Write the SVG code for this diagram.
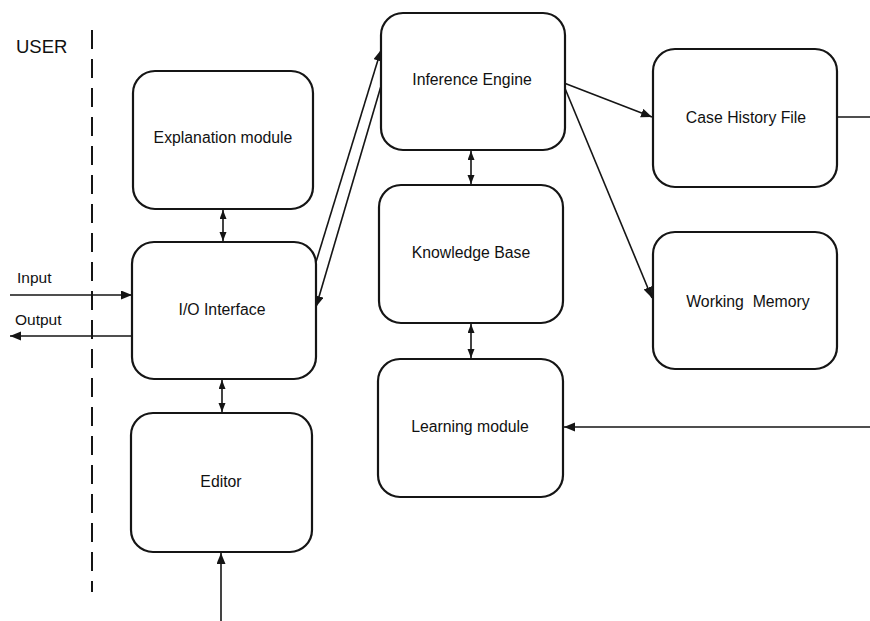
<svg xmlns="http://www.w3.org/2000/svg" width="870" height="621" viewBox="0 0 870 621">
  <style>
    .box { fill: #ffffff; stroke: #151515; stroke-width: 2.2; }
    .lbl { font-family: "Liberation Sans", Arial, sans-serif; font-size: 15.8px; fill: #111; text-anchor: middle; }
    .side { font-family: "Liberation Sans", Arial, sans-serif; font-size: 15.5px; fill: #111; }
    .wire { stroke: #151515; stroke-width: 1.6; fill: none; }
    .one { marker-end: url(#head); }
    .two { marker-start: url(#small); marker-end: url(#small); }
  </style>
  <defs>
    <marker id="head" markerUnits="userSpaceOnUse" markerWidth="12" markerHeight="10" refX="11" refY="4.5" orient="auto">
      <path d="M0,0 L11,4.5 L0,9 z" fill="#151515"/>
    </marker>
    <marker id="small" markerUnits="userSpaceOnUse" markerWidth="10" markerHeight="8" refX="9" refY="3.5" orient="auto-start-reverse">
      <path d="M0,0 L9,3.5 L0,7 z" fill="#151515"/>
    </marker>
  </defs>

  <rect width="870" height="621" fill="#ffffff"/>

  <!-- user boundary -->
  <g id="user-boundary">
    <line x1="92" y1="30" x2="92" y2="592" stroke="#151515" stroke-width="2" stroke-dasharray="19 10"/>
    <text x="16" y="53" font-family="Liberation Sans, Arial, sans-serif" font-size="18.5" fill="#111">USER</text>
  </g>

  <g id="connectors">
    <!-- user input / output -->
    <line class="wire one" x1="10" y1="295" x2="132" y2="295"/>
    <line class="wire one" x1="132" y1="336" x2="10" y2="336"/>
    <!-- vertical two-way links -->
    <line class="wire two" x1="223" y1="210" x2="223" y2="241"/>
    <line class="wire two" x1="222" y1="380" x2="222" y2="412"/>
    <line class="wire two" x1="471" y1="151" x2="471" y2="184"/>
    <line class="wire two" x1="471" y1="324" x2="471" y2="358"/>
    <!-- editor feed -->
    <line class="wire one" x1="221" y1="621" x2="221" y2="553"/>
    <!-- I/O interface <-> inference engine -->
    <line class="wire one" x1="316" y1="262" x2="381" y2="50"/>
    <line class="wire one" x1="381" y1="86" x2="316" y2="307"/>
    <!-- inference engine fan-out -->
    <line class="wire one" x1="564" y1="83" x2="652" y2="117"/>
    <line class="wire one" x1="564" y1="86" x2="652" y2="298"/>
    <!-- right side -->
    <line class="wire" x1="837" y1="117" x2="870" y2="117"/>
    <line class="wire one" x1="870" y1="427" x2="564" y2="427"/>
  </g>

  <g id="explanation-module">
    <rect class="box" x="133" y="71" width="180" height="138" rx="22"/>
    <text class="lbl" x="223" y="143">Explanation module</text>
  </g>
  <g id="io-interface">
    <rect class="box" x="132" y="242" width="184" height="137" rx="22"/>
    <text class="lbl" x="222" y="315">I/O Interface</text>
  </g>
  <g id="editor">
    <rect class="box" x="131" y="413" width="181" height="139" rx="22"/>
    <text class="lbl" x="221" y="487">Editor</text>
  </g>
  <g id="inference-engine">
    <rect class="box" x="381" y="13" width="184" height="137" rx="22"/>
    <text class="lbl" x="472" y="85">Inference Engine</text>
  </g>
  <g id="knowledge-base">
    <rect class="box" x="379" y="185" width="184" height="138" rx="22"/>
    <text class="lbl" x="471" y="258">Knowledge Base</text>
  </g>
  <g id="learning-module">
    <rect class="box" x="378" y="359" width="185" height="138" rx="22"/>
    <text class="lbl" x="470" y="432">Learning module</text>
  </g>
  <g id="case-history-file">
    <rect class="box" x="653" y="49" width="184" height="138" rx="22"/>
    <text class="lbl" x="746" y="123">Case History File</text>
  </g>
  <g id="working-memory">
    <rect class="box" x="653" y="232" width="184" height="137" rx="22"/>
    <text class="lbl" x="748" y="307" xml:space="preserve">Working  Memory</text>
  </g>

  <g id="io-labels">
    <text class="side" x="17" y="283">Input</text>
    <text class="side" x="15" y="325">Output</text>
  </g>
</svg>
